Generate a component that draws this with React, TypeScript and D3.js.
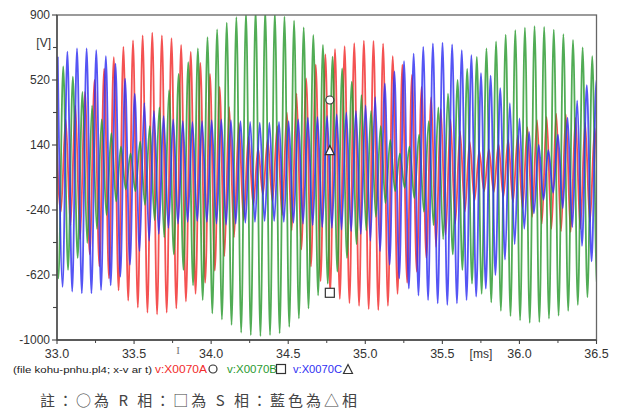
import React from "react";
import * as d3 from "d3";

// ---- axis ticks ----
const xTickValues = [33.0, 33.5, 34.0, 34.5, 35.0, 35.5, 36.0, 36.5];
const xTickLabels = ["33.0", "33.5", "34.0", "34.5", "35.0", "35.5", "36.0", "36.5"];
const xMinorTicks = [33.25, 33.75, 34.25, 34.75, 35.25, 36.25];
const xUnitAt = 35.75;
const yTickValues = [900, 520, 140, -240, -620, -1000];
const yMinorTicks = [330, -50, -430, -810];
const yUnitAt = 710;

// ---- series: extremes per cycle ----
const period = 0.0624; // ms per oscillation
const seriesNames = ["v:X0070A", "v:X0070B", "v:X0070C"];
const seriesColors = ["#f22c2c", "#2b9a30", "#2f2ff2"];
const seriesStarts = [32.994, 32.978, 33.005];

const redPeaks = [220, 290, 370, 450, 520, 586, 654, 713, 752, 781, 797, 781, 765, 725, 684, 620, 555, 480, 362, 270, 190, 120, 170, 250, 330, 440, 530, 610, 670, 700, 718, 735, 750, 748, 732, 660, 610, 550, 480, 420, 350, 290, 220, 160, 105, 115, 145, 170, 195, 245, 285, 305, 323, 320, 300, 270, 240, 210];
const redTroughs = [-250, -330, -410, -500, -570, -640, -710, -770, -810, -840, -850, -840, -815, -775, -730, -665, -595, -510, -400, -300, -210, -150, -190, -270, -360, -470, -570, -655, -720, -760, -785, -800, -820, -825, -800, -730, -665, -600, -520, -455, -385, -320, -250, -185, -130, -135, -165, -195, -230, -280, -320, -350, -365, -369, -350, -310, -280, -250];

const greenPeaks = [620, 600, 540, 450, 370, 290, 210, 130, 90, 160, 250, 360, 460, 555, 625, 705, 770, 816, 855, 887, 915, 930, 930, 915, 890, 867, 828, 783, 725, 656, 588, 510, 432, 340, 250, 170, 90, 130, 200, 280, 360, 440, 520, 585, 655, 705, 745, 785, 812, 826, 835, 830, 815, 788, 755, 710, 660, 610];
const greenTroughs = [-640, -590, -520, -433, -350, -270, -190, -120, -130, -210, -300, -400, -500, -590, -680, -767, -844, -880, -912, -957, -971, -977, -971, -961, -923, -874, -815, -739, -670, -600, -520, -440, -360, -280, -200, -130, -110, -170, -250, -330, -410, -500, -590, -670, -730, -780, -830, -860, -885, -900, -895, -875, -858, -830, -795, -750, -700, -650];

const bluePeaks = [656, 686, 705, 705, 695, 660, 615, 528, 440, 385, 340, 310, 290, 280, 275, 280, 285, 290, 285, 280, 275, 270, 270, 275, 280, 290, 300, 305, 310, 320, 330, 340, 372, 420, 500, 570, 630, 674, 713, 734, 738, 728, 695, 666, 560, 545, 472, 384, 296, 216, 140, 110, 200, 300, 400, 490, 520, 540];
const blueTroughs = [-690, -717, -727, -727, -708, -680, -630, -560, -480, -420, -380, -345, -320, -310, -305, -310, -320, -325, -320, -315, -310, -305, -305, -310, -315, -320, -330, -340, -345, -355, -365, -380, -420, -480, -560, -640, -700, -740, -767, -786, -795, -786, -767, -747, -700, -620, -530, -440, -350, -260, -180, -140, -230, -340, -450, -540, -600, -620];

const seriesPeaks = [redPeaks, greenPeaks, bluePeaks];
const seriesTroughs = [redTroughs, greenTroughs, blueTroughs];

// ---- marker symbols on the traces ----
const markerTime = 34.77;
const markerValues = [403, -724, 110];

const noteText = "註：○為 R 相：□為 S 相：藍色為△相";
const fileText = "(file kohu-pnhu.pl4; x-v ar t)";

const W = 619;
const H = 413;
const left = 57;
const right = 596.5;
const top = 15;
const bottom = 340;

function Marker({ kind, cx, cy, size }: { kind: number; cx: number; cy: number; size: number }) {
  if (kind === 0) return <circle cx={cx} cy={cy} r={size / 2} fill="#fff" stroke="#333" strokeWidth={1.2} />;
  if (kind === 1)
    return <rect x={cx - size / 2} y={cy - size / 2} width={size} height={size} fill="#fff" stroke="#333" strokeWidth={1.2} />;
  const h = size;
  return (
    <path
      d={`M${cx},${cy - h / 2} L${cx + h / 2},${cy + h / 2} L${cx - h / 2},${cy + h / 2} Z`}
      fill="#fff"
      stroke="#333"
      strokeWidth={1.2}
    />
  );
}

export default function App() {
  const x = d3.scaleLinear().domain([33, 36.5]).range([left, right]);
  const y = d3.scaleLinear().domain([-1000, 900]).range([bottom, top]);
  const line = d3
    .line<[number, number]>()
    .x((d) => x(d[0]))
    .y((d) => y(d[1]))
    .curve(d3.curveMonotoneX);

  const paths = seriesNames.map((_, s) => {
    const pts: [number, number][] = [];
    seriesPeaks[s].forEach((p, i) => {
      pts.push([seriesStarts[s] + i * period, p]);
      pts.push([seriesStarts[s] + (i + 0.5) * period, seriesTroughs[s][i]]);
    });
    return line(pts) || "";
  });

  const axisColor = "#444";
  const labelColor = "#333";
  const font = "'Liberation Sans', Arial, sans-serif";

  const legendX = [155, 227, 293];
  const legendW = [52, 50, 49];
  const legendMarkX = [213, 281, 348];

  return (
    <svg
      width={W}
      height={H}
      style={{ position: "absolute", left: 0, top: 0, background: "#fff" }}
      fontFamily={font}
    >
      <defs>
        <clipPath id="plotClip">
          <rect x={left} y={top} width={right - left} height={bottom - top} />
        </clipPath>
      </defs>
      <rect x={0} y={0} width={W} height={H} fill="#fff" />

      <g clipPath="url(#plotClip)">
        {paths.map((d, s) => (
          <path
            key={s}
            d={d}
            fill="none"
            stroke={seriesColors[s]}
            strokeWidth={1.8}
            strokeOpacity={0.82}
            strokeLinejoin="round"
          />
        ))}
      </g>

      {/* frame */}
      <rect x={left} y={top} width={right - left} height={bottom - top} fill="none" stroke="#666" strokeWidth={1.3} />
      <line x1={left} x2={left} y1={top} y2={bottom} stroke={axisColor} strokeWidth={1.3} />
      <line x1={left} x2={right} y1={bottom} y2={bottom} stroke={axisColor} strokeWidth={1.3} />

      {/* y axis */}
      {yTickValues.map((v) => (
        <g key={v}>
          <line x1={left - 5} x2={left} y1={y(v)} y2={y(v)} stroke={axisColor} strokeWidth={1.1} />
          <text x={left - 7} y={y(v) + 4.2} textAnchor="end" fontSize={12} fill={labelColor}>
            {v}
          </text>
        </g>
      ))}
      {yMinorTicks.map((v) => (
        <line key={v} x1={left - 4} x2={left} y1={y(v)} y2={y(v)} stroke={axisColor} strokeWidth={1.1} />
      ))}
      <line x1={left - 4} x2={left} y1={y(yUnitAt)} y2={y(yUnitAt)} stroke={axisColor} strokeWidth={1.1} />
      <text x={left - 6} y={y(yUnitAt) - 0.5} textAnchor="end" fontSize={12} fill={labelColor}>
        [V]
      </text>

      {/* x axis */}
      {xTickValues.map((v, i) => (
        <g key={v}>
          <line x1={x(v)} x2={x(v)} y1={bottom} y2={bottom + 4} stroke={axisColor} strokeWidth={1.1} />
          <text x={x(v)} y={bottom + 18} textAnchor="middle" fontSize={12.5} fill={labelColor}>
            {xTickLabels[i]}
          </text>
        </g>
      ))}
      {xMinorTicks.map((v) => (
        <line key={v} x1={x(v)} x2={x(v)} y1={bottom} y2={bottom + 3} stroke={axisColor} strokeWidth={1} />
      ))}
      <line x1={x(xUnitAt)} x2={x(xUnitAt)} y1={bottom} y2={bottom + 3} stroke={axisColor} strokeWidth={1} />
      <text x={x(xUnitAt)} y={bottom + 18} textAnchor="middle" fontSize={12} fill={labelColor}>
        [ms]
      </text>
      <text x={178} y={354} textAnchor="middle" fontSize={11} fill="#777" fontFamily="'Liberation Serif', serif">
        I
      </text>

      {/* markers on the traces */}
      {markerValues.map((v, s) => (
        <Marker key={s} kind={s} cx={x(markerTime)} cy={y(v)} size={s === 0 ? 8 : 9} />
      ))}

      {/* legend */}
      <text x={13} y={373} fontSize={9} fill="#222" textLength={139} lengthAdjust="spacingAndGlyphs">
        {fileText}
      </text>
      {seriesNames.map((n, s) => (
        <g key={n}>
          <text
            x={legendX[s]}
            y={373}
            fontSize={10.5}
            fill={seriesColors[s]}
            textLength={legendW[s]}
            lengthAdjust="spacingAndGlyphs"
          >
            {n}
          </text>
          <Marker kind={s} cx={legendMarkX[s]} cy={369} size={s === 0 ? 8 : 9} />
        </g>
      ))}

      {/* note */}
      <text
        x={40}
        y={406}
        fontSize={15}
        fill="#444"
        fontFamily="'Noto Sans CJK TC', 'Noto Sans CJK SC', sans-serif"
        textLength={317}
        lengthAdjust="spacing"
      >
        {noteText}
      </text>
    </svg>
  );
}
